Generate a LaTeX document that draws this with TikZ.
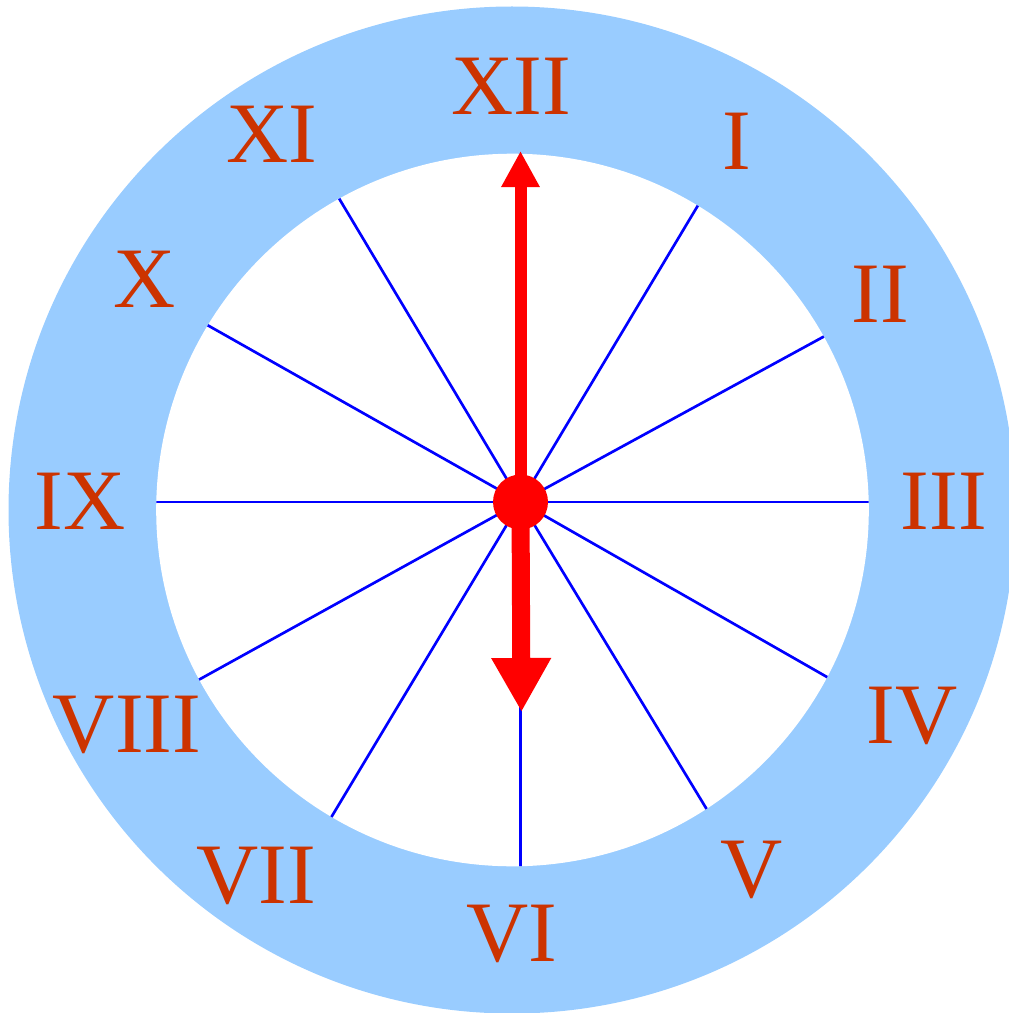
\documentclass[tikz,border=0pt]{standalone}
\usepackage{fontspec}
\setmainfont{Liberation Serif}
\usetikzlibrary{arrows.meta,calc}
\definecolor{ringblue}{HTML}{99CCFF}
\definecolor{numred}{HTML}{CC3300}
\begin{document}
\begin{tikzpicture}[x=0.75pt,y=-0.75pt,
  numeral/.style={text=numred,font=\fontsize{64.6}{70}\selectfont,inner sep=0pt},
  tick/.style={blue,line width=2pt},
  minutehand/.style={red,line width=9pt,-{Triangle[length=27pt,width=27pt]}},
  hourhand/.style={red,line width=13.5pt,-{Triangle[length=40.5pt,width=42pt]}}]
\useasboundingbox (0,0) rectangle (1009,1013);
\begin{scope}
  \clip (0,0) rectangle (1009,1013);
  \fill[ringblue] (512,510) circle[radius=503.5];
\end{scope}
\fill[white] (512.5,510) circle[radius=356.3];
\coordinate (c) at (520.5,502);
\coordinate (r1) at (697,207);
\coordinate (r2) at (823,337);
\coordinate (r3) at (869,502);
\coordinate (r4) at (827,677);
\coordinate (r5) at (706,808);
\coordinate (r6) at (520.5,865);
\coordinate (r7) at (332,816);
\coordinate (r8) at (202,678);
\coordinate (r9) at (157,502);
\coordinate (r10) at (209,326);
\coordinate (r11) at (340,200);
\coordinate (r12) at (520.5,155);
\begin{scope}
  \clip (512.5,510) circle[radius=356.3];
  \foreach \i in {1,...,12} \draw[tick] (c) -- ($(c)!1.1!(r\i)$);
\end{scope}
\coordinate (mtip) at (520.5,151);
\coordinate (htip) at (521.5,712);
\draw[minutehand] (c) -- (mtip);
\draw[hourhand] (c) -- (htip);
\fill[red] (c) circle[radius=27.5];
\node[numeral] (n12) at (511,86.7) {XII};
\node[numeral] (n1) at (736.5,141.5) {I};
\node[numeral] (n2) at (880.5,294) {II};
\node[numeral] (n3) at (944,501.7) {III};
\node[numeral] (n4) at (912,716) {IV};
\node[numeral] (n5) at (752,869.5) {V};
\node[numeral] (n6) at (512,933.5) {VI};
\node[numeral] (n7) at (256,876) {VII};
\node[numeral] (n8) at (127,725) {VIII};
\node[numeral] (n9) at (80.3,501.7) {IX};
\node[numeral] (n10) at (145,279) {X};
\node[numeral] (n11) at (272,134) {XI};
\end{tikzpicture}
\end{document}
